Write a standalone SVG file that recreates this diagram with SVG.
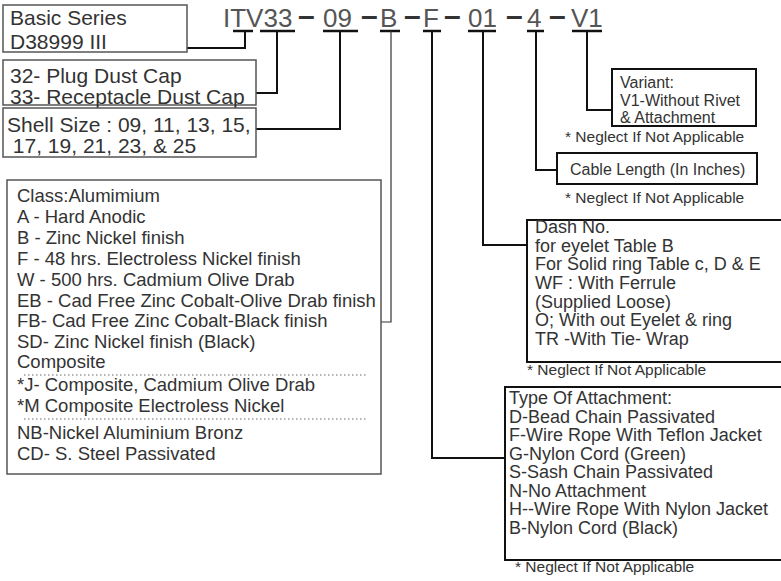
<svg xmlns="http://www.w3.org/2000/svg" width="781" height="581" viewBox="0 0 781 581">
<style>
text{font-family:"Liberation Sans",Arial,sans-serif;fill:#333}
.t{font-size:26px;fill:#555}
.d{font-size:30px;font-weight:bold;fill:#333}
.l{font-size:21px}
.c{font-size:18.5px}
.e{font-size:18px}
.s{font-size:16px}
.n{font-size:15.5px}
.gb{fill:#fff;stroke:#555;stroke-width:1.5}
.kb{fill:#fff;stroke:#111;stroke-width:2}
.ln{fill:none;stroke:#111;stroke-width:2}
.u{stroke:#111;stroke-width:2.5}
.dot{stroke:#666;stroke-width:1;stroke-dasharray:1.5 2.5}
</style>
<g id="code">
<text class="t" x="223" y="27">ITV33</text>
<text class="d" x="298" y="26">–</text>
<text class="t" x="323" y="27">09</text>
<text class="d" x="361" y="26">–</text>
<text class="t" x="380" y="27">B</text>
<text class="d" x="404" y="26">–</text>
<text class="t" x="423" y="27">F</text>
<text class="d" x="444" y="26">–</text>
<text class="t" x="468" y="27">01</text>
<text class="d" x="506" y="26">–</text>
<text class="t" x="527" y="27">4</text>
<text class="d" x="549" y="26">–</text>
<text class="t" x="571" y="27">V1</text>
</g>
<g id="connectors">
<line class="u" x1="233" y1="31" x2="253" y2="31"/>
<line class="u" x1="260" y1="31" x2="295" y2="31"/>
<line class="u" x1="323" y1="31" x2="358" y2="31"/>
<line class="u" x1="380" y1="31" x2="400" y2="31"/>
<line class="u" x1="423" y1="31" x2="441" y2="31"/>
<line class="u" x1="468" y1="31" x2="496" y2="31"/>
<line class="u" x1="527" y1="31" x2="544" y2="31"/>
<line class="u" x1="572" y1="31" x2="602" y2="31"/>
<polyline class="ln" points="245,31 245,48 187,48"/>
<polyline class="ln" points="277,31 277,93 256,93"/>
<polyline class="ln" points="340,31 340,129 256,129"/>
<polyline class="ln" style="stroke-width:1.2;stroke:#333" points="391,31 391,322 381,322"/>
<polyline class="ln" points="432,31 432,458 505,458"/>
<polyline class="ln" points="483,31 483,245 527,245"/>
<polyline class="ln" points="536,31 536,170 557,170"/>
<polyline class="ln" points="587,31 587,110 612,110"/>
</g>
<g id="basic">
<rect class="gb" x="3" y="5" width="184" height="47"/>
<text class="l" x="10" y="25">Basic Series</text>
<text class="l" x="10" y="49">D38999 III</text>
</g>
<g id="cap">
<rect class="gb" x="3" y="60" width="253" height="45"/>
<text class="l" x="10" y="83">32- Plug Dust Cap</text>
<text class="l" x="10" y="104">33- Receptacle Dust Cap</text>
</g>
<g id="shell">
<rect class="gb" x="3" y="108" width="253" height="49"/>
<text class="l" x="7" y="132">Shell Size : 09, 11, 13, 15,</text>
<text class="l" x="7" y="153" style="white-space:pre"> 17, 19, 21, 23, &amp; 25</text>
</g>
<g id="class">
<rect class="gb" x="7" y="180" width="374" height="294"/>
<text class="c" x="17" y="202">Class:Alumimium</text>
<text class="c" x="17" y="223">A - Hard Anodic</text>
<text class="c" x="17" y="244">B - Zinc Nickel finish</text>
<text class="c" x="17" y="265">F - 48 hrs. Electroless Nickel finish</text>
<text class="c" x="17" y="286">W - 500 hrs. Cadmium Olive Drab</text>
<text class="c" x="17" y="307">EB - Cad Free Zinc Cobalt-Olive Drab finish</text>
<text class="c" x="17" y="327">FB- Cad Free Zinc Cobalt-Black finish</text>
<text class="c" x="17" y="348">SD- Zinc Nickel finish (Black)</text>
<text class="c" x="17" y="368">Composite</text>
<line class="dot" x1="24" y1="375" x2="368" y2="375"/>
<text class="c" x="17" y="391">*J- Composite, Cadmium Olive Drab</text>
<text class="c" x="17" y="412">*M Composite Electroless Nickel</text>
<line class="dot" x1="24" y1="419" x2="368" y2="419"/>
<text class="c" x="17" y="439">NB-Nickel Aluminium Bronz</text>
<text class="c" x="17" y="460">CD- S. Steel Passivated</text>
</g>
<g id="attachment">
<rect class="kb" x="505" y="387" width="290" height="173"/>
<text class="e" x="509" y="404">Type Of Attachment:</text>
<text class="e" x="509" y="422.6">D-Bead Chain Passivated</text>
<text class="e" x="509" y="441.1">F-Wire Rope With Teflon Jacket</text>
<text class="e" x="509" y="459.7">G-Nylon Cord (Green)</text>
<text class="e" x="509" y="478.3">S-Sash Chain Passivated</text>
<text class="e" x="509" y="496.9">N-No Attachment</text>
<text class="e" x="509" y="515.4">H--Wire Rope With Nylon Jacket</text>
<text class="e" x="509" y="534">B-Nylon Cord (Black)</text>
<text class="n" x="515" y="572">* Neglect If Not Applicable</text>
</g>
<g id="dash">
<rect class="kb" x="527" y="220" width="270" height="142"/>
<text class="e" x="535" y="233">Dash No.</text>
<text class="e" x="535" y="251.7">for eyelet Table B</text>
<text class="e" x="535" y="270.3">For Solid ring Table c, D &amp; E</text>
<text class="e" x="535" y="289">WF : With Ferrule</text>
<text class="e" x="535" y="307.7">(Supplied Loose)</text>
<text class="e" x="535" y="326.3">O; With out Eyelet &amp; ring</text>
<text class="e" x="535" y="345">TR -With Tie- Wrap</text>
<text class="n" x="527" y="375">* Neglect If Not Applicable</text>
</g>
<g id="cable">
<rect class="kb" x="557" y="153" width="200" height="31"/>
<text class="s" x="570" y="175">Cable Length (In Inches)</text>
<text class="n" x="565" y="203">* Neglect If Not Applicable</text>
</g>
<g id="variant">
<rect class="kb" x="612" y="69" width="144" height="57"/>
<text class="s" x="620" y="88">Variant:</text>
<text class="s" x="620" y="106">V1-Without Rivet</text>
<text class="s" x="620" y="123">&amp; Attachment</text>
<text class="n" x="565" y="142">* Neglect If Not Applicable</text>
</g>
</svg>
